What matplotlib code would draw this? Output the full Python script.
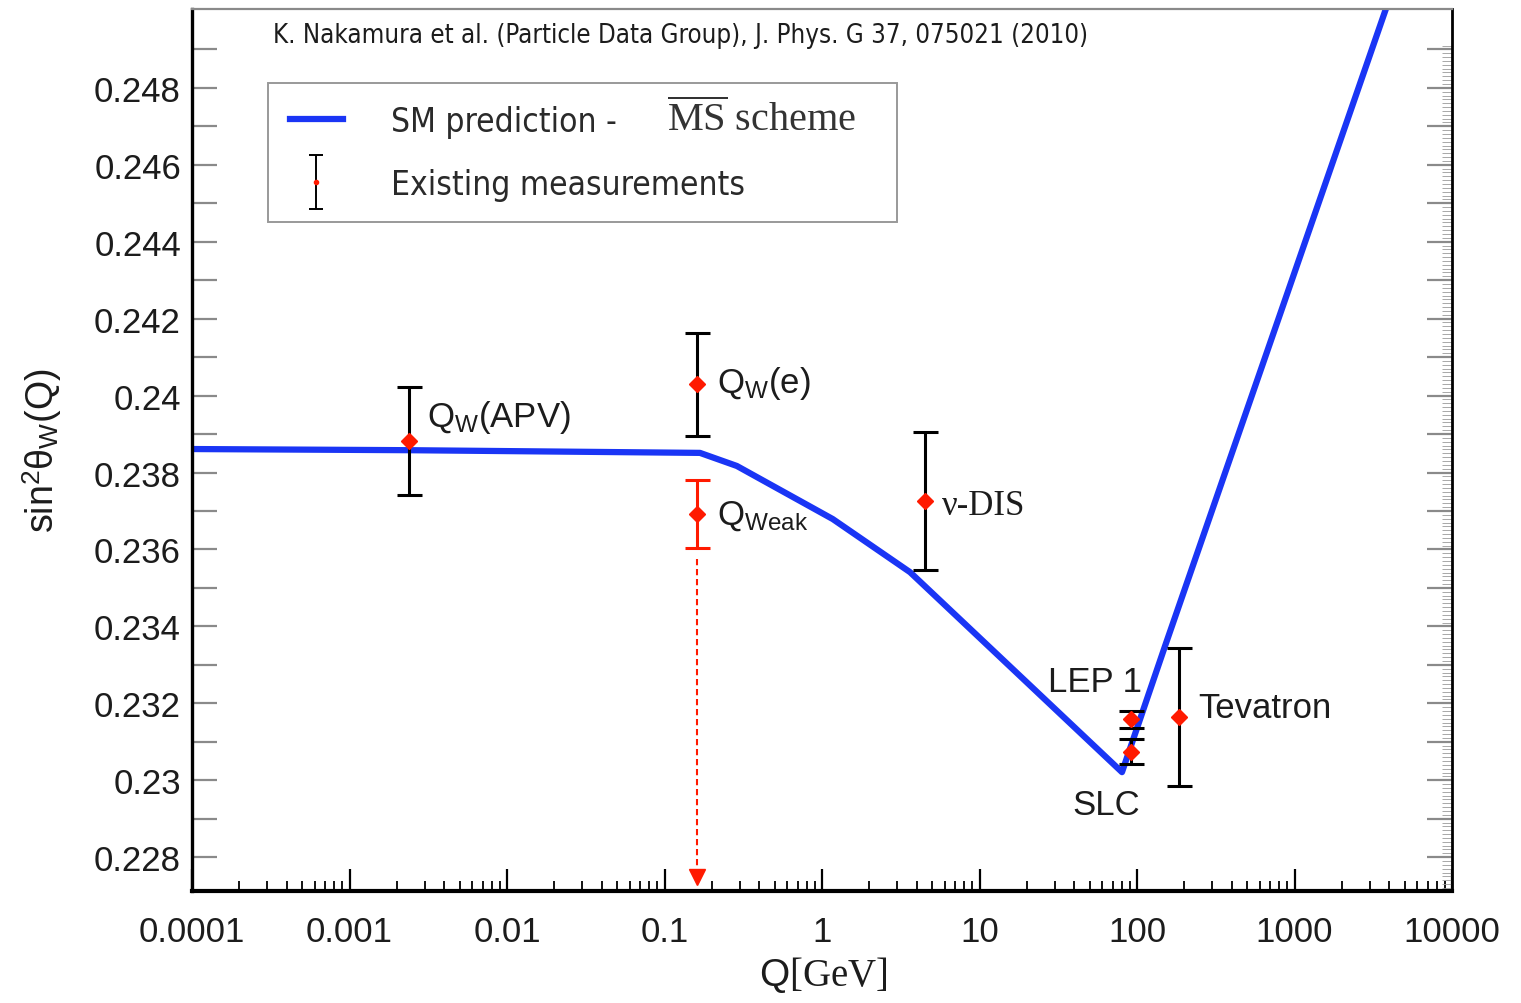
import numpy as np
import matplotlib
matplotlib.use("Agg")
import matplotlib.pyplot as plt
from matplotlib import font_manager as fm
from matplotlib.lines import Line2D
from matplotlib.container import ErrorbarContainer
from matplotlib.legend_handler import HandlerErrorbar
from matplotlib.ticker import LogLocator, FixedLocator, FixedFormatter, NullFormatter

# ---- Standard Model running of the weak mixing angle (MS-bar) ----
sm_q = [1e-4, 2.39e-3, 0.168, 0.288, 1.17, 3.62, 80.3, 151.0, 3810.0]
sm_s2w = [0.23861, 0.23858, 0.23851, 0.23817, 0.23679, 0.23541, 0.23021, 0.23350, 0.25006]

# ---- existing measurements (black bars, red centres) ----
meas_labels = ["APV", "Qw(e)", "nu-DIS", "LEP 1", "SLC", "Tevatron"]
meas_q = [0.00239, 0.161, 4.5, 91.19, 91.19, 185.0]
meas_s2w = [0.23882, 0.24029, 0.23726, 0.23159, 0.23074, 0.23165]
meas_err = [0.00140, 0.00134, 0.00180, 0.00022, 0.00032, 0.00180]

# ---- Qweak projection ----
qweak_q = 0.161
qweak_s2w = 0.23692
qweak_err = 0.00088
qweak_arrow_end = 0.22748

# ---- axis ticks ----
x_ticks = [1e-4, 1e-3, 1e-2, 1e-1, 1, 10, 100, 1000, 10000]
x_tick_labels = ["0.0001", "0.001", "0.01", "0.1", "1", "10", "100", "1000", "10000"]
y_label_values = [0.228, 0.230, 0.232, 0.234, 0.236, 0.238, 0.240, 0.242, 0.244, 0.246, 0.248]

BLUE = "#1a35f5"
RED = "#ff1a00"
INK = "#1c1c1c"

plt.rcParams["font.family"] = ["Liberation Sans", "DejaVu Sans"]
plt.rcParams["mathtext.fontset"] = "custom"
plt.rcParams["mathtext.rm"] = "Liberation Serif"
plt.rcParams["mathtext.sf"] = "Liberation Sans"
plt.rcParams["mathtext.it"] = "Liberation Serif:italic"
plt.rcParams["mathtext.bf"] = "Liberation Serif:bold"


def narrow_font(size):
    """Condensed sans face for the legend and the reference line."""
    prefs = ["DejaVu Sans", "Liberation Sans Narrow", "Roboto Condensed"]
    for name in prefs:
        for f in fm.fontManager.ttflist:
            if (f.name == name and f.stretch == "condensed" and f.style == "normal"
                    and f.weight in (400, "normal", "regular")):
                return fm.FontProperties(fname=f.fname, size=size)
    return fm.FontProperties(family="DejaVu Sans", size=size * 0.9)


fig = plt.figure(figsize=(15.21, 10.04), dpi=100)
ax = fig.add_axes([192 / 1521, 1 - 892 / 1004, 1260 / 1521, 882 / 1004])

ax.set_xscale("log")
ax.set_xlim(1e-4, 1e4)
ax.set_ylim(0.22712, 0.25005)

# SM curve
sm_line, = ax.plot(sm_q, sm_s2w, color=BLUE, lw=4.5, solid_joinstyle="round", zorder=2)

# measurements
ax.errorbar(meas_q, meas_s2w, yerr=meas_err, fmt="D", ms=8, mfc=RED, mec=RED,
            ecolor="black", elinewidth=2.2, capsize=9, capthick=2.2, zorder=3)

# Qweak projection with arrow
ax.errorbar([qweak_q], [qweak_s2w], yerr=[qweak_err], fmt="D", ms=8, mfc=RED, mec=RED,
            ecolor=RED, elinewidth=2.2, capsize=9, capthick=2.2, zorder=3)
ax.plot([qweak_q, qweak_q], [qweak_s2w - qweak_err - 0.0003, qweak_arrow_end + 0.0002],
        color=RED, lw=1.5, dashes=(3, 1.8), zorder=2)
ax.plot([qweak_q], [qweak_arrow_end], marker="v", ms=12, color=RED, mec=RED, zorder=3)

# labels next to the points
lab_kw = dict(fontsize=25, color=INK, va="baseline", ha="left")
ax.text(0.0031, 0.23921, r"Q$_{\mathsf{W}}$(APV)", **lab_kw)
ax.text(0.215, 0.24009, r"Q$_{\mathsf{W}}$(e)", **lab_kw)
ax.text(0.215, 0.23666, r"Q$_{\mathsf{Weak}}$", **lab_kw)
ax.text(5.78, 0.23692, "ν-DIS", fontsize=25, color=INK, va="baseline", ha="left",
        family="Liberation Serif")
ax.text(27.2, 0.23232, "LEP 1", **lab_kw)
ax.text(38.7, 0.22912, "SLC", **lab_kw)
ax.text(244.0, 0.23164, "Tevatron", **lab_kw)

# reference line
ax.text(0.0643, 0.9626, "K. Nakamura et al. (Particle Data Group), J. Phys. G 37, 075021 (2010)",
        transform=ax.transAxes, fontproperties=narrow_font(18.5), color=INK,
        va="baseline", ha="left")

# legend
meas_handle = ax.errorbar([np.nan], [np.nan], yerr=[np.nan], fmt="o", ms=3,
                          mfc=RED, mec=RED, ecolor="black", elinewidth=1.4,
                          capsize=5, capthick=1.4)
leg_font = narrow_font(24)
leg = ax.legend([Line2D([], [], color=BLUE, lw=4.5), meas_handle],
                ["SM prediction -", "Existing measurements"],
                loc="upper left", bbox_to_anchor=(0.0603, 0.7161, 0.4992, 0.2),
                mode="expand", borderaxespad=0,
                prop=leg_font, frameon=True, fancybox=False, framealpha=1,
                edgecolor="#999999", borderpad=0.65, labelspacing=0.9,
                handlelength=1.6, handletextpad=1.45,
                handler_map={ErrorbarContainer: HandlerErrorbar(yerr_size=0.82)})
leg.get_frame().set_linewidth(1.4)
for t in leg.get_texts():
    t.set_color("#2a2a2a")
ax.text(0.377, 0.8625, r"$\overline{\mathrm{MS}}\ \mathrm{scheme}$", transform=ax.transAxes,
        fontsize=29, color="#333333", va="baseline", ha="left", zorder=6)

# axes cosmetics
ax.xaxis.set_major_locator(FixedLocator(x_ticks))
ax.xaxis.set_major_formatter(FixedFormatter(x_tick_labels))
ax.xaxis.set_minor_locator(LogLocator(base=10, subs=np.arange(2, 10), numticks=100))
ax.xaxis.set_minor_formatter(NullFormatter())

y_ticks = np.round(np.arange(0.228, 0.2495, 0.001), 3)
ax.yaxis.set_major_locator(FixedLocator(y_ticks))
ax.yaxis.set_major_formatter(FixedFormatter(
    [f"{v:g}" if np.any(np.isclose(v, y_label_values)) else "" for v in y_ticks]))
ax.yaxis.set_minor_locator(FixedLocator(np.round(np.arange(0.2272, 0.2492, 0.0001), 4)))

ax.tick_params(axis="x", which="major", direction="in", length=16, width=1.6, color="black",
               top=False, bottom=True, pad=17, labelsize=25, labelcolor=INK)
ax.tick_params(axis="x", which="minor", direction="in", length=7, width=1.3, color="black",
               top=False, bottom=True)
ax.tick_params(axis="y", which="major", direction="in", length=18, width=1.6, color="#8a8a8a",
               left=True, right=True, pad=8, labelsize=25, labelcolor=INK)
ax.tick_params(axis="y", which="minor", direction="in", length=7, width=0.6, color="#9a9a9a",
               left=False, right=True)

ax.spines["left"].set_linewidth(2.4)
ax.spines["bottom"].set_linewidth(3.0)
ax.spines["right"].set_linewidth(2.0)
ax.spines["top"].set_linewidth(1.6)
ax.spines["top"].set_color("#8a8a8a")

ax.set_xlabel(r"Q$\mathrm{[GeV]}$", fontsize=28, color=INK, va="center")
ax.xaxis.set_label_coords(0.5008, -0.094)
ax.set_ylabel(r"sin$^{\mathsf{2}}$θ$_{\mathsf{W}}$(Q)", fontsize=27, color=INK, va="center")
ax.yaxis.set_label_coords(-0.119, 0.50)

fig.savefig("out.png", dpi=100)
